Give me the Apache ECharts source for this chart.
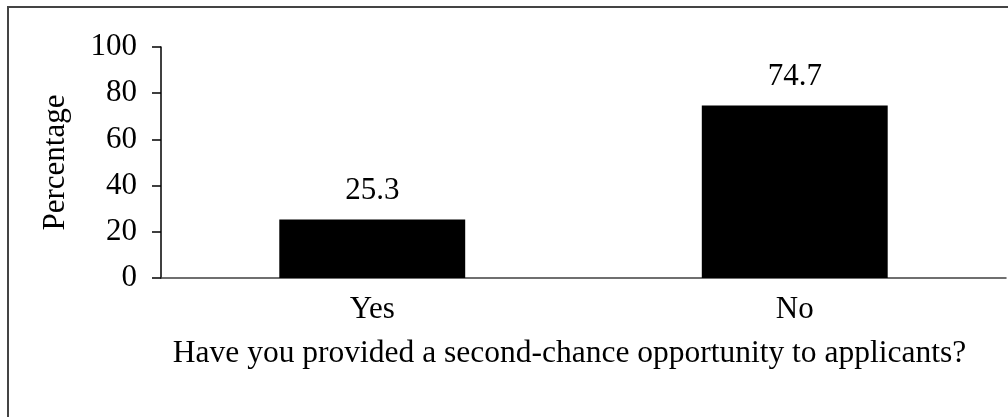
<!DOCTYPE html>
<html>
<head>
<meta charset="utf-8">
<script src="https://cdn.jsdelivr.net/npm/echarts@6/dist/echarts.min.js"></script>
<style>
  html, body { margin: 0; padding: 0; background: #fff; }
  #chart { width: 1008px; height: 417px; }
</style>
</head>
<body>
<div id="chart"></div>
<script>
const categories = ['Yes', 'No']
const percentages = [25.3, 74.7]
const yTicks = { min: 0, max: 100, step: 20 }

const font = 'Liberation Serif'
const fs = 31
const instance = echarts.init(document.getElementById('chart'))
const option = {
  backgroundColor: '#fff',
  textStyle: { fontFamily: font },
  animation: false,
  graphic: [{
    type: 'rect',
    shape: { x: 8, y: 7, width: 1100, height: 500 },
    style: { fill: 'none', stroke: '#444', lineWidth: 2 },
    silent: true
  }],
  grid: { left: 161, right: 2, top: 47, bottom: 139 },
  xAxis: {
    type: 'category',
    data: categories,
    name: 'Have you provided a second-chance opportunity to applicants?',
    nameLocation: 'middle',
    nameGap: 60,
    nameTextStyle: { fontFamily: font, fontSize: 31.5, color: '#000', padding: [0, 28, 0, 0] },
    axisLine: { lineStyle: { color: '#404040', width: 1.5 } },
    axisTick: { show: false },
    axisLabel: { fontFamily: font, fontSize: fs, color: '#000', margin: 16 }
  },
  yAxis: {
    type: 'value',
    min: yTicks.min,
    max: yTicks.max,
    interval: yTicks.step,
    name: 'Percentage',
    nameLocation: 'middle',
    nameGap: 90,
    nameTextStyle: { fontFamily: font, fontSize: fs, color: '#000' },
    axisLine: { show: true, lineStyle: { color: '#000', width: 1.5 } },
    axisTick: { show: true, length: 9, lineStyle: { color: '#000', width: 1.5 } },
    axisLabel: { fontFamily: font, fontSize: fs, color: '#000', margin: 24 },
    splitLine: { show: false }
  },
  series: [{
    type: 'bar',
    data: percentages,
    barWidth: '44%',
    itemStyle: { color: '#000' },
    label: {
      show: true,
      position: 'top',
      distance: 13,
      fontFamily: font,
      fontSize: fs,
      color: '#000',
      formatter: (arg) => arg.value.toFixed(1)
    }
  }]
}
instance.setOption(option)
</script>
</body>
</html>
